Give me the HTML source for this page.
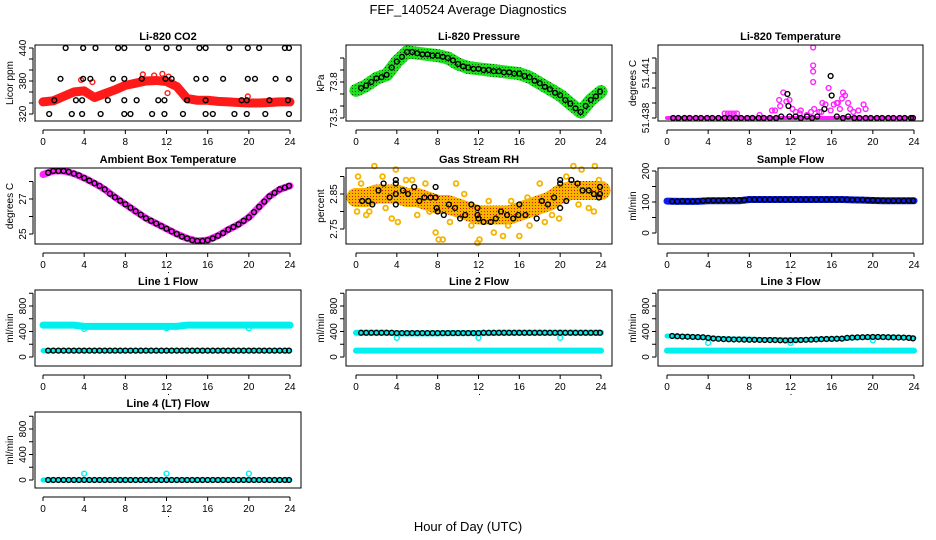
<!DOCTYPE html>
<html><head><meta charset="utf-8">
<style>
html,body{margin:0;padding:0;background:#fff;}
svg{display:block;font-family:"Liberation Sans",Arial,sans-serif;}
.t{font-weight:bold;font-size:11px;}
.tk{font-size:10px;}
</style></head>
<body>
<svg id="chart" width="936" height="540" viewBox="0 0 936 540">
<defs>
<pattern id="gpat" patternUnits="userSpaceOnUse" width="3" height="3"><rect width="3" height="3" fill="#1ee01e"/><rect x="1" y="1" width="1" height="1" fill="#0a5a0a"/></pattern>
<pattern id="opat" patternUnits="userSpaceOnUse" width="3" height="3"><rect width="3" height="3" fill="#f5b400"/><rect x="1" y="1" width="1" height="1" fill="#e01010"/></pattern>
</defs>
<text x="468" y="14" text-anchor="middle" font-size="13">FEF_140524  Average Diagnostics</text>
<text x="468" y="531" text-anchor="middle" font-size="13">Hour of Day (UTC)</text>
</svg>
<script>
// ---------- data ----------
const xTicks = [0,4,8,12,16,20,24];
// CO2
const co2Band = [342,344,352,360,362,350,357,364,372,376,380,381,379,370,348,345,345,343,342,341,340,340,341,342,342];
const co2RedH = [3.7,4.8,9.7,10.8,11.6,12.2,12.1,19.9];
const co2RedV = [382,378,392,390,393,388,358,352];
const co2BlkH = [2.2,3.9,5.1,7.3,7.9,10.2,12,13.2,15.2,15.8,18.1,19.9,21,23.5,23.9,
 1.7,3.9,4.6,6.8,7.9,9.6,11.9,12.5,14.9,15.8,17.5,19.9,20.6,22.6,23.9,
 1.1,3.2,3.8,6.3,7.9,9.1,11.2,11.8,14,15.8,19.3,19.8,22,23.8,
 0.6,2.8,3.8,5.6,7.9,8.5,10.6,11.8,13.6,15.8,16.5,18.6,19.8,21.6,23.9];
const co2BlkV = [440,440,440,440,440,440,440,440,440,440,440,440,440,440,440,
 384,384,384,384,384,384,384,384,384,384,384,384,384,384,384,
 345,345,345,345,345,345,345,345,345,345,345,345,345,345,
 320,320,320,320,320,320,320,320,320,320,320,320,320,320,320];
// Pressure
const presBand = [73.73,73.77,73.83,73.86,73.97,74.05,74.04,74.03,74.02,74.0,73.95,73.92,73.91,73.9,73.89,73.88,73.87,73.84,73.79,73.74,73.69,73.62,73.55,73.65,73.72];
const presBlk = [73.75,73.77,73.8,73.83,73.84,73.86,73.92,73.97,74.01,74.05,74.05,74.04,74.03,74.03,74.02,74.02,74.01,74.0,73.98,73.95,73.93,73.92,73.91,73.91,73.9,73.9,73.89,73.89,73.88,73.88,73.87,73.87,73.85,73.84,73.81,73.79,73.76,73.74,73.71,73.69,73.65,73.62,73.58,73.55,73.6,73.65,73.68,73.72];
// Li-820 temperature
const tempBand = [51.438,51.438,51.438,51.438,51.438,51.438,51.438,51.438,51.438,51.438,51.438,51.438,51.438,51.438,51.438,51.438,51.438,51.438,51.438,51.438,51.438,51.438,51.438,51.438,51.438];
const tempMagH = [5.6,5.9,6.2,6.5,6.8,9.0,10.2,10.5,10.9,11.0,11.3,11.6,11.9,12.2,12.5,13.0,13.6,14.2,14.2,14.2,14.2,14.3,14.0,14.8,15.1,15.4,15.7,15.9,16.2,16.5,16.8,17.0,17.1,17.3,17.6,17.8,18.1,18.6,19.1,19.3,12.9,15.0,16.6];
const tempMagV = [51.4383,51.4383,51.4383,51.4383,51.4383,51.4382,51.4385,51.4385,51.4392,51.4388,51.4397,51.4391,51.4392,51.4386,51.4384,51.4385,51.4382,51.4427,51.4415,51.4411,51.4404,51.4386,51.4384,51.4384,51.4390,51.4389,51.4400,51.4385,51.4389,51.4390,51.4386,51.4393,51.4397,51.4395,51.4390,51.4386,51.4384,51.4385,51.4389,51.4386,51.4383,51.4384,51.4390];
const tempBlkH = [0.6,1.1,1.7,2.2,2.8,3.3,3.9,4.4,5.0,5.6,6.1,6.7,7.2,7.8,8.3,8.9,9.4,10.0,10.6,11.1,11.7,11.8,11.9,12.5,13.0,13.6,14.1,14.6,15.3,15.9,16.0,16.5,17.1,17.6,18.2,18.7,19.3,19.8,20.4,20.9,21.5,22.0,22.6,23.1,23.7,23.9];
const tempBlkV = [51.438,51.438,51.438,51.438,51.438,51.438,51.438,51.438,51.438,51.438,51.438,51.438,51.438,51.438,51.438,51.438,51.438,51.438,51.438,51.4381,51.4396,51.4388,51.4381,51.4381,51.438,51.4381,51.438,51.4381,51.4386,51.4408,51.4395,51.4381,51.438,51.4381,51.438,51.438,51.438,51.438,51.438,51.438,51.438,51.438,51.438,51.438,51.438,51.438];
// Ambient box temperature
const ambBand = [28.4,28.6,28.6,28.45,28.2,27.9,27.55,27.1,26.7,26.3,25.9,25.6,25.3,25.0,24.75,24.6,24.65,24.9,25.25,25.55,25.95,26.55,27.15,27.55,27.75];
const ambBlk = [28.5,28.6,28.6,28.6,28.55,28.45,28.35,28.2,28.05,27.9,27.75,27.55,27.3,27.1,26.9,26.7,26.5,26.3,26.1,25.9,25.75,25.6,25.45,25.3,25.15,25.0,24.85,24.75,24.65,24.6,24.6,24.65,24.75,24.9,25.05,25.25,25.4,25.55,25.75,25.95,26.25,26.55,26.85,27.15,27.35,27.55,27.65,27.75];
// Gas stream RH
const rhBand = [2.84,2.84,2.85,2.85,2.85,2.84,2.84,2.83,2.82,2.82,2.81,2.80,2.79,2.79,2.79,2.79,2.80,2.81,2.82,2.83,2.85,2.86,2.86,2.86,2.86];
const rhOrH = [0.2,1.8,3.9,4.9,3.5,4.1,7.8,8.1,8.5,11.9,12.1,13.5,14.4,16,19.9,21.3,22.1,23.4,23.3,0.1,2.6,6.0,9.8,17.0,18.5,0.5,1.3,2.9,5.5,6.8,9.2,10.6,13.0,15.2,16.8,18.0,20.6,22.8,23.8,1.0,7.2,11.3,14.9,19.2,21.8];
const rhOrV = [2.90,2.93,2.92,2.89,2.78,2.77,2.74,2.72,2.72,2.71,2.72,2.74,2.73,2.73,2.78,2.93,2.92,2.93,2.80,2.80,2.90,2.79,2.88,2.76,2.77,2.88,2.80,2.81,2.89,2.88,2.77,2.85,2.83,2.83,2.84,2.88,2.90,2.81,2.89,2.79,2.80,2.76,2.76,2.79,2.82];
const rhBlkH = [1.2,0.6,1.6,2.2,2.7,3.3,3.9,3.9,3.9,3.9,4.6,5.1,5.7,6.2,6.7,7.3,7.8,7.8,7.9,8,8.6,9.1,9.7,10.2,10.7,11.3,11.9,11.9,12,12.5,13.2,13.7,14.2,14.8,15.4,15.9,16,16.6,17.7,18.2,18.8,19.4,20,20,20,20.6,21.1,21.7,22.2,22.8,23.3,23.9,24,23.8];
const rhBlkV = [2.83,2.83,2.82,2.86,2.88,2.84,2.85,2.88,2.89,2.82,2.86,2.85,2.87,2.83,2.84,2.84,2.84,2.87,2.81,2.80,2.79,2.82,2.81,2.78,2.79,2.82,2.81,2.79,2.78,2.77,2.77,2.78,2.80,2.79,2.78,2.79,2.82,2.79,2.78,2.83,2.82,2.84,2.81,2.88,2.89,2.83,2.89,2.88,2.86,2.86,2.85,2.87,2.85,2.84];
// Sample flow
const sfBand = [103,102,102,102,104,104,104,104,108,108,108,108,108,108,108,108,108,108,107,106,105,104,104,104,104];
const sfBlk = [102,102,103,102,102,103,104,105,105,105,105,106,106,106,106,108,108,108,108,108,108,108,108,108,108,108,108,108,108,108,108,108,108,108,108,107,107,107,106,106,105,105,104,104,104,104,104,104];
// Line flows
const l1Top = [500,500,500,500,480,480,480,480,480,480,480,480,480,480,500,500,500,500,500,500,500,500,500,500,500];
const l1Bot = [100,100,100,100,100,100,100,100,100,100,100,100,100,100,100,100,100,100,100,100,100,100,100,100,100];
const l1Blk = [100,100,100,100,100,100,100,100,100,100,100,100,100,100,100,100,100,100,100,100,100,100,100,100,100,100,100,100,100,100,100,100,100,100,100,100,100,100,100,100,100,100,100,100,100,100,100,100];
const l1OutH = [4,12,20]; const l1OutV = [440,450,450];
const l2Top = [380,380,380,380,370,370,370,370,370,375,375,375,375,375,380,380,380,380,380,380,380,380,380,380,380];
const l2Bot = [100,100,100,100,100,100,100,100,100,100,100,100,100,100,100,100,100,100,100,100,100,100,100,100,100];
const l2Blk = [380,380,380,380,380,380,380,375,375,375,375,375,375,375,375,375,375,375,375,375,375,375,375,375,380,380,380,380,380,380,380,380,380,380,380,380,380,380,380,380,380,380,380,380,380,380,380,380];
const l2OutH = [4,12,20]; const l2OutV = [300,300,300];
const l3Top = [330,325,320,310,300,290,285,280,280,275,275,270,270,270,275,280,285,290,300,305,310,310,310,305,300];
const l3Bot = [100,100,100,100,100,100,100,100,100,100,100,100,100,100,100,100,100,100,100,100,100,100,100,100,100];
const l3Blk = [330,325,320,318,315,312,310,300,290,285,280,278,275,275,272,270,270,268,266,265,265,262,260,262,264,266,270,272,275,280,282,284,286,288,300,304,308,310,312,314,314,312,310,308,306,304,300,292];
const l3OutH = [4,12,20]; const l3OutV = [220,220,260];
const l4Top = [0,0,0,0,0,0,0,0,0,0,0,0,0,0,0,0,0,0,0,0,0,0,0,0,0];
const l4Blk = [0,0,0,0,0,0,0,0,0,0,0,0,0,0,0,0,0,0,0,0,0,0,0,0,0,0,0,0,0,0,0,0,0,0,0,0,0,0,0,0,0,0,0,0,0,0,0,0];
const l4OutH = [4,12,20]; const l4OutV = [100,100,100];

// ---------- drawing ----------
const svg = document.getElementById('chart');
const NS = 'http://www.w3.org/2000/svg';
const colL=[35,346,658], colR=[301,612,923], col0=[43,356,667], col24=[290,601,914];
const rowT=[45,168,290,412], rowB=[121,244,366,488];
function mk(tag, attrs, parent){const e=document.createElementNS(NS,tag);for(const k in attrs)e.setAttribute(k,attrs[k]);(parent||svg).appendChild(e);return e;}

function panel(o){
  const g=mk('g',{});
  
  
  const L=colL[o.c],R=colR[o.c],T=rowT[o.r],B=rowB[o.r];
  const sx=h=>col0[o.c]+(col24[o.c]-col0[o.c])*h/24;
  const sy=v=>o.p1+(v-o.v1)*(o.p2-o.p1)/(o.v2-o.v1);
  const body=mk('g',{},g);
  mk('rect',{x:L,y:T,width:R-L,height:B-T,fill:'none',stroke:'#000','stroke-width':1},g);
  const tt=mk('text',{x:(L+R)/2,y:T-5,'text-anchor':'middle',class:'t'},g);tt.textContent=o.title;
  
  
  const ay=B+9;
  mk('line',{x1:sx(0),x2:sx(24),y1:ay,y2:ay,stroke:'#000'},g);
  xTicks.forEach(h=>{mk('line',{x1:sx(h),x2:sx(h),y1:ay,y2:ay+4,stroke:'#000'},g);
    const t=mk('text',{x:sx(h),y:ay+15,'text-anchor':'middle',class:'tk'},g);t.textContent=h;
    
    });
  mk('rect',{x:(L+R)/2,y:ay+19,width:1,height:1,fill:'#000'},g);
  const ax=L-2;
  const yts=o.yt.map(sy);
  mk('line',{x1:ax,x2:ax,y1:Math.min(...yts),y2:Math.max(...yts),stroke:'#000'},g);
  o.yt.forEach(v=>mk('line',{x1:ax-4,x2:ax,y1:sy(v),y2:sy(v),stroke:'#000'},g));
  o.yl.forEach((v,i)=>{const y=sy(v),x=ax-7;
    const t=mk('text',{x:x,y:y,'text-anchor':'middle',transform:`rotate(-90 ${x} ${y})`,class:'tk'},g);
    t.textContent=o.ylText[i];
    
    });
  const yx=L-22,ym=(T+B)/2;
  const yt=mk('text',{x:yx,y:ym,'text-anchor':'middle',transform:`rotate(-90 ${yx} ${ym})`,class:'tk'},g);
  yt.textContent=o.ylab;
  
  
  (o.bands||[]).forEach(b=>{
    const pts=b.v.map((v,i)=>sx(i)+','+sy(v)).join(' ');
    const pl=mk('polyline',{points:pts,fill:'none',stroke:b.col,'stroke-width':b.w,'stroke-linecap':'round','stroke-linejoin':'round'},body);
    
    
  });
  (o.pts||[]).forEach(s=>{
    s.v.forEach((v,i)=>{
      const h=s.h?s.h[i]:(i+1)*0.5;
      const c=mk('circle',{cx:sx(Math.min(h,23.9)),cy:sy(v),r:s.r||2.4,fill:'none',stroke:s.col,'stroke-width':s.sw||1.4},body);
      
      
    });
  });
}

panel({name:'co2-panel',title:'Li-820 CO2',c:0,r:0,v1:320,p1:114,v2:440,p2:48,yt:[320,340,360,380,400,420,440],yl:[320,380,440],ylText:['320','380','440'],ylab:'Licor ppm',
 bands:[{v:co2Band,col:'#ff1a1a',w:9,name:'co2-band'}],
 pts:[{h:co2RedH,v:co2RedV,col:'#ff1a1a',name:'co2-red-point'},{h:co2BlkH,v:co2BlkV,col:'#000',name:'co2-avg-point'}]});
panel({name:'pressure-panel',title:'Li-820 Pressure',c:1,r:0,v1:73.5,p1:118,v2:73.8,p2:82,yt:[73.5,73.6,73.7,73.8,73.9,74.0],yl:[73.5,73.8],ylText:['73.5','73.8'],ylab:'kPa',
 bands:[{v:presBand,col:'url(#gpat)',w:13,name:'pressure-band'}],
 pts:[{v:presBlk,col:'#000',name:'pressure-avg-point'}]});
panel({name:'li820-temp-panel',title:'Li-820 Temperature',c:2,r:0,v1:51.438,p1:118,v2:51.441,p2:73,yt:[51.438,51.439,51.440,51.441,51.442],yl:[51.438,51.441],ylText:['51.438','51.441'],ylab:'degrees C',
 bands:[{v:tempBand,col:'#ff22ff',w:4,name:'temp-band'}],
 pts:[{h:tempMagH,v:tempMagV,col:'#ff22ff',name:'temp-raw-point'},{h:tempBlkH,v:tempBlkV,col:'#000',name:'temp-avg-point'}]});
panel({name:'ambient-temp-panel',title:'Ambient Box Temperature',c:0,r:1,v1:25,p1:234,v2:27,p2:199,yt:[25,26,27,28],yl:[25,27],ylText:['25','27'],ylab:'degrees C',
 bands:[{v:ambBand,col:'#ff22ff',w:7,name:'ambient-band'}],
 pts:[{v:ambBlk,col:'#000',name:'ambient-avg-point'}]});
panel({name:'rh-panel',title:'Gas Stream RH',c:1,r:1,v1:2.75,p1:229,v2:2.85,p2:194,yt:[2.75,2.80,2.85,2.90],yl:[2.75,2.85],ylText:['2.75','2.85'],ylab:'percent',
 bands:[{v:rhBand,col:'url(#opat)',w:19,name:'rh-band'}],
 pts:[{h:rhOrH,v:rhOrV,col:'#f5b400',sw:1.8,name:'rh-raw-point'},{h:rhBlkH,v:rhBlkV,col:'#000',name:'rh-avg-point'}]});
panel({name:'sample-flow-panel',title:'Sample Flow',c:2,r:1,v1:0,p1:233,v2:200,p2:171,yt:[0,50,100,150,200],yl:[0,100,200],ylText:['0','100','200'],ylab:'ml/min',
 bands:[{v:sfBand,col:'#0a1ee8',w:7,name:'sample-flow-band'}],
 pts:[{v:sfBlk,col:'#000',name:'sample-flow-avg-point'}]});
const fyt=[0,200,400,600,800,1000];
panel({name:'line1-flow-panel',title:'Line 1 Flow',c:0,r:2,v1:0,p1:357,v2:800,p2:306,yt:fyt,yl:[0,400,800],ylText:['0','400','800'],ylab:'ml/min',
 bands:[{v:l1Top,col:'#00f0f0',w:7,name:'line1-top-band'},{v:l1Bot,col:'#00f0f0',w:5,name:'line1-bottom-band'}],
 pts:[{h:l1OutH,v:l1OutV,col:'#00f0f0',name:'line1-outlier'},{v:l1Blk,col:'#000',name:'line1-avg-point'}]});
panel({name:'line2-flow-panel',title:'Line 2 Flow',c:1,r:2,v1:0,p1:357,v2:800,p2:306,yt:fyt,yl:[0,400,800],ylText:['0','400','800'],ylab:'ml/min',
 bands:[{v:l2Top,col:'#00f0f0',w:6,name:'line2-top-band'},{v:l2Bot,col:'#00f0f0',w:6,name:'line2-bottom-band'}],
 pts:[{h:l2OutH,v:l2OutV,col:'#00f0f0',name:'line2-outlier'},{v:l2Blk,col:'#000',name:'line2-avg-point'}]});
panel({name:'line3-flow-panel',title:'Line 3 Flow',c:2,r:2,v1:0,p1:357,v2:800,p2:306,yt:fyt,yl:[0,400,800],ylText:['0','400','800'],ylab:'ml/min',
 bands:[{v:l3Top,col:'#00f0f0',w:5,name:'line3-top-band'},{v:l3Bot,col:'#00f0f0',w:6,name:'line3-bottom-band'}],
 pts:[{h:l3OutH,v:l3OutV,col:'#00f0f0',name:'line3-outlier'},{v:l3Blk,col:'#000',name:'line3-avg-point'}]});
panel({name:'line4-flow-panel',title:'Line 4 (LT) Flow',c:0,r:3,v1:0,p1:480,v2:800,p2:429,yt:fyt,yl:[0,400,800],ylText:['0','400','800'],ylab:'ml/min',
 bands:[{v:l4Top,col:'#00f0f0',w:5,name:'line4-band'}],
 pts:[{h:l4OutH,v:l4OutV,col:'#00f0f0',name:'line4-outlier'},{v:l4Blk,col:'#000',name:'line4-avg-point'}]});
</script>
</body></html>
